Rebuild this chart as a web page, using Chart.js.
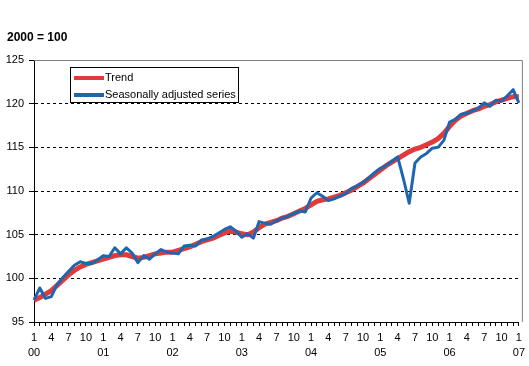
<!DOCTYPE html>
<html>
<head>
<meta charset="utf-8">
<script src="https://cdn.jsdelivr.net/npm/chart.js@4.4.1/dist/chart.umd.min.js"></script>
<style>
  html, body { margin: 0; padding: 0; background: #fff; }
  #wrap { position: relative; width: 529px; height: 366px; font-family: "Liberation Sans", Arial, sans-serif; }
  #chart { position: absolute; left: 0; top: 0; }
  #unit { position: absolute; left: 7px; top: 30px; font-size: 12px; font-weight: bold; }
  #legend { position: absolute; left: 70px; top: 67px; width: 167px; height: 34px; border: 1px solid #000; background: #fff; font-size: 11px; }
  #legend div { position: absolute; left: 3px; height: 14px; line-height: 14px; white-space: nowrap; }
  #legend span { display: inline-block; width: 30px; height: 4px; vertical-align: middle; margin-right: 1px; }
</style>
</head>
<body>
<div id="wrap">
  <canvas id="chart" width="529" height="366"></canvas>
  <div id="unit">2000 = 100</div>
  <div id="legend">
    <div style="top:2px"><span style="background:#e03a3a"></span>Trend</div>
    <div style="top:19px"><span style="background:#1f66b0"></span>Seasonally adjusted series</div>
  </div>
</div>
<script>
// === DATA ===
const years = ['00', '01', '02', '03', '04', '05', '06', '07'];
const shownMonths = [1, 4, 7, 10];

const trend = [
  97.5, 97.8, 98.2, 98.6, 99.2, 99.8, 100.4, 100.9, 101.3, 101.6, 101.8, 102.0,
  102.2, 102.4, 102.6, 102.7, 102.7, 102.5, 102.3, 102.4, 102.6, 102.8, 102.9, 103.0,
  103.0, 103.2, 103.4, 103.6, 103.9, 104.2, 104.4, 104.6, 104.9, 105.2, 105.4, 105.3,
  105.1, 105.0, 105.3, 105.8, 106.2, 106.4, 106.6, 106.9, 107.1, 107.4, 107.7, 108.0,
  108.4, 108.8, 109.0, 109.1, 109.3, 109.5, 109.8, 110.1, 110.5, 110.9, 111.4, 111.9,
  112.4, 112.9, 113.3, 113.7, 114.1, 114.5, 114.8, 115.0, 115.3, 115.6, 116.0, 116.6,
  117.4, 118.1, 118.6, 118.9, 119.2, 119.4, 119.7, 119.9, 120.2, 120.4, 120.6, 120.8,
  120.8
];

const adjusted = [
  97.5, 98.9, 97.7, 97.9, 99.3, 100.1, 100.8, 101.5, 101.9, 101.7, 101.7, 102.1,
  102.6, 102.5, 103.5, 102.8, 103.5, 102.9, 101.8, 102.6, 102.2, 102.8, 103.3, 103.0,
  102.9, 102.8, 103.7, 103.8, 103.7, 104.4, 104.5, 104.8, 105.2, 105.6, 105.9, 105.4,
  104.7, 105.1, 104.6, 106.5, 106.3, 106.2, 106.6, 106.9, 107.1, 107.4, 107.7, 107.6,
  109.2, 109.8, 109.4, 108.9, 109.1, 109.4, 109.7, 110.3, 110.6, 111.0, 111.5, 112.1,
  112.6, 112.9, 113.4, 113.9, 111.4, 108.6, 113.2, 113.9, 114.3, 114.9, 115.0, 115.8,
  117.9, 118.2, 118.8, 118.9, 119.2, 119.5, 120.1, 119.7, 120.4, 120.3, 120.9, 121.6,
  120.1
];

// month categories 2000-01 .. 2007-01
const categories = [];
years.forEach((y, yi) => {
  for (let m = 1; m <= 12; m++) {
    if (yi === years.length - 1 && m > 1) break;
    categories.push({ m, y });
  }
});

// === BORDER (top + right, grey) ===
const frame = {
  id: 'frame',
  afterDraw(chart) {
    const { ctx, chartArea: a } = chart;
    ctx.save();
    ctx.strokeStyle = '#808080';
    ctx.lineWidth = 1;
    ctx.beginPath();
    ctx.moveTo(a.left, a.top + 0.5);
    ctx.lineTo(a.right + 3.5, a.top + 0.5);
    ctx.lineTo(a.right + 3.5, a.bottom);
    ctx.stroke();
    ctx.restore();
  }
};

const font = { family: '"Liberation Sans", Arial, sans-serif', size: 11 };

new Chart(document.getElementById('chart'), {
  type: 'line',
  data: {
    labels: categories.map((c, i) => i),
    datasets: [
      { label: 'Seasonally adjusted series', data: adjusted, borderColor: '#1f66b0', borderWidth: 3, order: 0 },
      { label: 'Trend', data: trend, borderColor: '#e03a3a', borderWidth: 5, order: 1 }
    ]
  },
  options: {
    responsive: false,
    animation: false,
    events: [],
    layout: { padding: { left: 0, top: 60, right: 9, bottom: 0 } },
    elements: { point: { radius: 0 }, line: { tension: 0, borderJoinStyle: 'round' } },
    plugins: { legend: { display: false }, tooltip: { enabled: false } },
    scales: {
      x: {
        type: 'category',
        offset: false,
        afterFit: s => { s.height = 44; },
        grid: { drawOnChartArea: false, drawTicks: true, tickLength: 4, tickColor: '#000' },
        border: { color: '#000', width: 1 },
        ticks: {
          autoSkip: false,
          maxRotation: 0,
          padding: 4,
          color: '#000',
          font: { ...font, lineHeight: 1.4 },
          callback: (v, i) => {
            const c = categories[i];
            if (!shownMonths.includes(c.m)) return '';
            return c.m === 1 ? [String(c.m), c.y] : [String(c.m), ''];
          }
        }
      },
      y: {
        min: 95,
        max: 125,
        afterFit: s => { s.width = 34; },
        grid: {
          color: c => (c.tick.value === 95 || c.tick.value === 125) ? 'rgba(0,0,0,0)' : '#000',
          tickColor: '#000',
          tickLength: 5,
          tickBorderDash: []
        },
        border: { color: '#000', width: 1, dash: [3, 3] },
        ticks: { stepSize: 5, padding: 5, color: '#000', font }
      }
    }
  },
  plugins: [frame]
});
</script>
</body>
</html>
